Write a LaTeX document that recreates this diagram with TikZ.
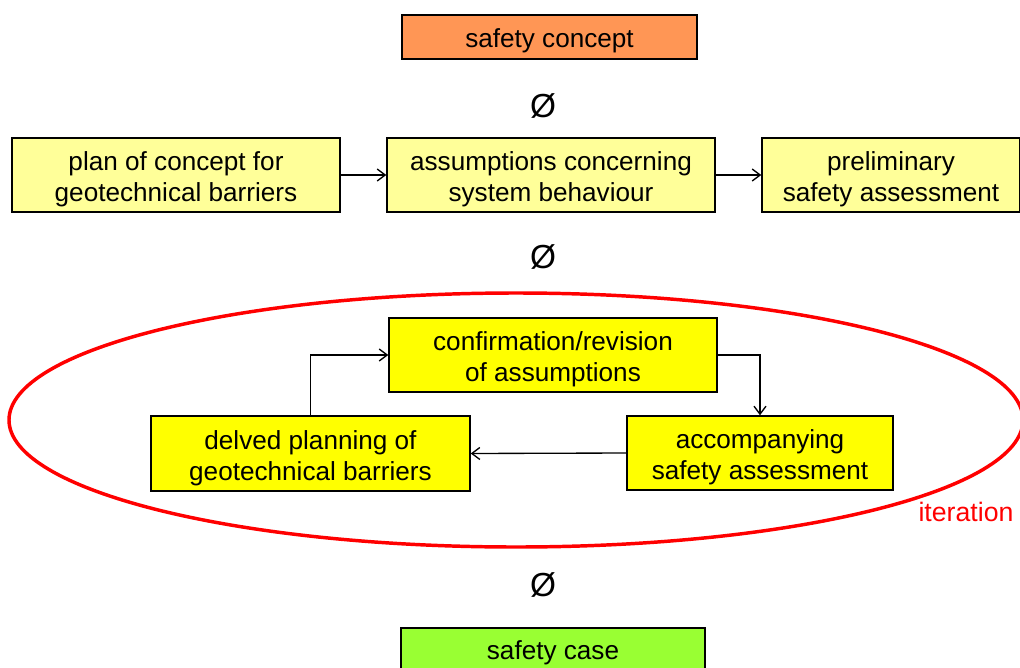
\documentclass[tikz,border=0pt]{standalone}
\usepackage{fontspec}
\setmainfont{Liberation Sans}
\usetikzlibrary{arrows.meta}
\definecolor{concept}{RGB}{255,150,85}
\definecolor{paleyellow}{RGB}{255,255,153}
\definecolor{brightyellow}{RGB}{255,255,0}
\definecolor{casegreen}{RGB}{153,255,51}
\definecolor{iterred}{RGB}{255,0,0}
\begin{document}
\begin{tikzpicture}[x=0.75pt,y=-0.75pt,
  box/.style={draw=black,line width=1.1pt,inner sep=0pt,align=center,
    font=\fontsize{19.6}{23}\selectfont},
  % an invisible strut that lowers the text a little inside its box
  textdrop/.style={execute at begin node={\rule{0pt}{#1}}},
  onebox/.style={box,textdrop=20pt},
  twobox/.style={box,textdrop=44pt,minimum height=74*0.75pt},
  flow/.style={-{Straight Barb[length=6pt,width=9pt,line width=1pt]},line width=1pt},
  stepsym/.style={font=\fontsize{25}{28}\selectfont}]
\useasboundingbox (0,0) rectangle (1020,667);

% iteration loop
\draw[iterred,line width=2.6pt] (516,420) ellipse [x radius=507,y radius=127];
\node[text=iterred,font=\fontsize{20}{22}\selectfont] (iter) at (966,512) {iteration};

% top
\node[onebox,fill=concept,minimum width=295*0.75pt,minimum height=44*0.75pt] (concept) at (549.5,37) {safety concept};
\node[stepsym] (s1) at (543,106) {Ø};

% first row
\node[twobox,fill=paleyellow,minimum width=328*0.75pt] (plan) at (176,175)
  {plan of concept for\\geotechnical barriers};
\node[twobox,fill=paleyellow,minimum width=328*0.75pt] (assume) at (551,175)
  {assumptions concerning\\system behaviour};
\node[twobox,fill=paleyellow,minimum width=258*0.75pt] (prelim) at (891,175)
  {preliminary\\safety assessment};
\draw[flow] (plan) -- (assume);
\draw[flow] (assume) -- (prelim);
\node[stepsym] (s2) at (543,257) {Ø};

% iteration boxes
\node[twobox,fill=brightyellow,minimum width=328*0.75pt] (confirm) at (553,355)
  {confirmation/revision\\of assumptions};
\node[twobox,fill=brightyellow,minimum width=266*0.75pt] (accomp) at (760,453)
  {accompanying\\safety assessment};
\node[twobox,fill=brightyellow,minimum width=319*0.75pt,minimum height=75*0.75pt] (delved) at (310.5,453.5)
  {delved planning of\\geotechnical barriers};
\draw[flow] (confirm.east) -| (accomp.north);
\draw[flow] (accomp.west) -- (delved.east);
\draw[flow] (delved.north) |- (confirm.west);

% bottom
\node[stepsym] (s3) at (543,585) {Ø};
\node[draw=black,line width=1.1pt,fill=casegreen,inner sep=0pt,minimum width=304*0.75pt,minimum height=60*0.75pt] (case) at (553,658) {};
\node[font=\fontsize{19.6}{22.5}\selectfont] (casetext) at (553,653) {safety case};
\end{tikzpicture}
\end{document}
